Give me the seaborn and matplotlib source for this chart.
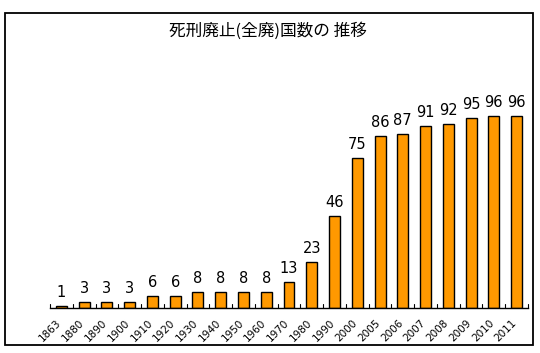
import matplotlib
matplotlib.use("Agg")
import matplotlib.pyplot as plt
import matplotlib.transforms as mtransforms
import seaborn as sns
import pandas as pd
from matplotlib.patches import Rectangle

years = ["1863", "1880", "1890", "1900", "1910", "1920", "1930", "1940", "1950", "1960",
         "1970", "1980", "1990", "2000", "2005", "2006", "2007", "2008", "2009", "2010", "2011"]
counts = [1, 3, 3, 3, 6, 6, 8, 8, 8, 8, 13, 23, 46, 75, 86, 87, 91, 92, 95, 96, 96]
title = "死刑廃止(全廃)国数の 推移"

sns.set_theme(style="white")
plt.rcParams['font.family'] = ['Noto Sans CJK JP', 'DejaVu Sans']

df = pd.DataFrame({"year": years, "count": counts})

fig = plt.figure(figsize=(5.4, 3.53), dpi=100)
fig.patches.append(Rectangle((5/540, 1 - 345/353), 528/540, 332/353, transform=fig.transFigure,
                             fill=False, edgecolor="black", linewidth=1.3))
ax = fig.add_axes([50/540, 1 - 308/353, 478/540, 240/353])
sns.barplot(data=df, x="year", y="count", color="#FF9900", edgecolor="black",
            linewidth=1.0, width=0.48, saturation=1, ax=ax)
ax.set_ylim(0, 120)
ax.set_xlim(-0.5, len(years) - 0.5)
for s in ["top", "right", "left"]:
    ax.spines[s].set_visible(False)
ax.spines["bottom"].set_color("black")
ax.spines["bottom"].set_linewidth(1.0)
ax.set_yticks([])
ax.set_xlabel("")
ax.set_ylabel("")
for i, v in enumerate(counts):
    ax.text(i, v + 3.2, str(v), ha="center", va="bottom", fontsize=10.5,
            family="DejaVu Sans", color="black")
ax.set_xticks(range(len(years)))
ax.set_xticklabels(years, rotation=45, ha="right", rotation_mode="anchor", fontsize=7.5,
                   family="DejaVu Sans", color="black")
ax.tick_params(axis="x", length=0, pad=7)
offset = mtransforms.ScaledTranslation(-5/100, 0, fig.dpi_scale_trans)
for lab in ax.get_xticklabels():
    lab.set_transform(lab.get_transform() + offset)
for b in [i - 0.5 for i in range(len(years) + 1)]:
    ax.plot([b, b], [0, 2], color="black", linewidth=0.8, clip_on=False)
fig.text(268/540, 1 - 31/353, title, ha="center", va="center", fontsize=12, color="black")
fig.savefig("out.png", dpi=100)
